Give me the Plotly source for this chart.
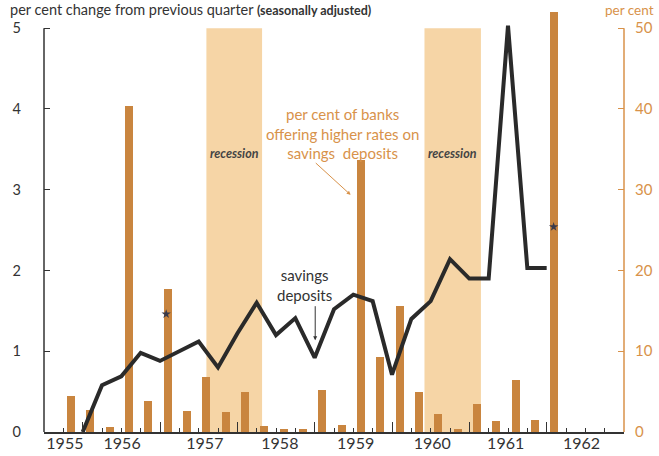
import plotly.graph_objects as go

# ---- data ----
line_quarters = [1956.00, 1956.25, 1956.50, 1956.75, 1957.00, 1957.25, 1957.50, 1957.75,
                 1958.00, 1958.25, 1958.50, 1958.75, 1959.00, 1959.25, 1959.50, 1959.75,
                 1960.00, 1960.25, 1960.50, 1960.75, 1961.00, 1961.25, 1961.50, 1961.75,
                 1962.00]
savings_change = [0.00, 0.58, 0.69, 0.98, 0.88, 1.00, 1.12, 0.80,
                  1.22, 1.60, 1.20, 1.41, 0.92, 1.52, 1.70, 1.62,
                  0.71, 1.40, 1.62, 2.14, 1.90, 1.90, 5.03, 2.03,
                  2.03]

bar_dates = [1955.85, 1956.10, 1956.35, 1956.60, 1956.85, 1957.10, 1957.35, 1957.60,
             1957.85, 1958.10, 1958.35, 1958.60, 1958.85, 1959.10, 1959.35, 1959.60,
             1959.85, 1960.10, 1960.35, 1960.60, 1960.85, 1961.10, 1961.35, 1961.60,
             1961.85, 1962.10]
banks_higher_pct = [4.5, 2.7, 0.6, 40.4, 3.8, 17.7, 2.6, 6.8,
                    2.5, 4.9, 0.7, 0.4, 0.4, 5.2, 0.9, 33.7,
                    9.3, 15.6, 5.0, 2.2, 0.4, 3.5, 1.4, 6.4,
                    1.5, 52.0]

star_x = [1957.08, 1962.09]
star_y = [1.46, 2.54]

recession_start = [1957.60, 1960.42]
recession_end = [1958.32, 1961.15]

year_label_pos = [1955.77, 1956.51, 1957.58, 1958.55, 1959.53, 1960.52, 1961.47, 1962.45]
year_labels = ["1955", "1956", "1957", "1958", "1959", "1960", "1961", "1962"]
year_ticks = [1956, 1957, 1958, 1959, 1960, 1961, 1962]

left_ticks = [0, 1, 2, 3, 4, 5]
right_ticks = [0, 10, 20, 30, 40, 50]

# ---- styles ----
DARK = "#333333"
ORANGE = "#D8924A"
BAR = "#C9853F"
SHADE = "#F6D5A6"
FONT = "Lato"

fig = go.Figure()

# bars on the primary (right, per cent) axis; line on the overlaid left axis so it draws on top
fig.add_trace(go.Bar(x=bar_dates, y=banks_higher_pct, yaxis="y", width=0.105,
                     marker=dict(color=BAR, line=dict(width=0)), showlegend=False))
fig.add_trace(go.Scatter(x=line_quarters, y=savings_change, yaxis="y2", mode="lines",
                         line=dict(color="#2A2A2A", width=4), showlegend=False,
                         cliponaxis=False))
fig.add_trace(go.Scatter(x=star_x, y=star_y, yaxis="y2", mode="markers",
                         marker=dict(symbol="star", size=7, color="#3A3A4A"),
                         showlegend=False))
fig.add_trace(go.Scatter(x=[None], y=[None], xaxis="x2", yaxis="y", showlegend=False))

for s, e in zip(recession_start, recession_end):
    fig.add_shape(type="rect", xref="x", yref="y", x0=s, x1=e, y0=0, y1=50,
                  fillcolor=SHADE, line=dict(width=0), layer="below")
    fig.add_annotation(x=(s + e) / 2, y=3.45, xref="x", yref="y2", text="<b><i>recession</i></b>",
                       showarrow=False, font=dict(family=FONT, size=12.5, color="#444444"))

# axis lines (only spanning 0..5 / 0..50)
fig.add_shape(type="line", xref="paper", yref="y", x0=0, x1=0, y0=0, y1=50,
              line=dict(color=DARK, width=1.5))
fig.add_shape(type="line", xref="paper", yref="y", x0=1, x1=1, y0=0, y1=50,
              line=dict(color=ORANGE, width=1.5))

# annotations
fig.add_annotation(x=1959.366, y=3.70, xref="x", yref="y2",
                   text="per cent of banks<br>offering higher rates on<br>savings  deposits",
                   showarrow=False, font=dict(family=FONT, size=15, color=ORANGE))
fig.add_annotation(x=1959.465, y=2.936, ax=1958.995, ay=3.347, xref="x", yref="y2",
                   axref="x", ayref="y2", text="", showarrow=True, arrowhead=2,
                   arrowsize=0.8, arrowwidth=1, arrowcolor=ORANGE)
fig.add_annotation(x=1958.874, y=1.823, xref="x", yref="y2",
                   text="savings<br>deposits", showarrow=False,
                   font=dict(family=FONT, size=15, color=DARK))
fig.add_annotation(x=1959.007, y=1.135, ax=1959.007, ay=1.576, xref="x", yref="y2",
                   axref="x", ayref="y2", text="", showarrow=True, arrowhead=2,
                   arrowsize=0.8, arrowwidth=1, arrowcolor=DARK)

fig.add_annotation(x=-0.062, y=1.005, xref="paper", yref="paper", xanchor="left", yanchor="middle",
                   text="per cent change from previous quarter <span style='font-size:12.5px'><b>(seasonally adjusted)</b></span>",
                   showarrow=False, font=dict(family=FONT, size=14.5, color=DARK))
fig.add_annotation(x=1.0103, y=1.005, xref="paper", yref="paper", xanchor="center", yanchor="middle",
                   text="per cent", showarrow=False, font=dict(family=FONT, size=13.5, color=ORANGE))

fig.update_layout(
    width=659, height=456,
    margin=dict(l=44, r=35, t=12, b=24),
    paper_bgcolor="white", plot_bgcolor="white",
    font=dict(family=FONT, color=DARK),
    bargap=0,
    xaxis=dict(range=[1955.5, 1963.0], tickmode="array", tickvals=year_ticks,
               showticklabels=False, ticks="inside", ticklen=10, tickwidth=1.2, tickcolor=DARK,
               showline=True, linecolor=DARK, linewidth=1.5, showgrid=False, zeroline=False,
               automargin=False,
               minor=dict(tickmode="linear", tick0=1955.75, dtick=0.25, ticks="inside",
                          ticklen=4, tickcolor=DARK, tickwidth=1, showgrid=False)),
    xaxis2=dict(overlaying="x", side="bottom", anchor="y", range=[1955.5, 1963.0],
                tickmode="array", tickvals=year_label_pos, ticktext=year_labels,
                ticks="", showline=False, showgrid=False, zeroline=False, automargin=False,
                tickfont=dict(family=FONT, size=16, color=DARK)),
    yaxis=dict(side="right", range=[0, 52], tickmode="array", tickvals=right_ticks,
               ticks="inside", ticklen=6, tickcolor=ORANGE, tickwidth=1.2, showline=False,
               showgrid=False, zeroline=False, automargin=False,
               tickfont=dict(family=FONT, size=15, color=ORANGE), ticklabelstandoff=10),
    yaxis2=dict(overlaying="y", side="left", anchor="x", range=[0, 5.2], tickmode="array",
                tickvals=left_ticks, ticks="inside", ticklen=6, tickcolor=DARK, tickwidth=1.2,
                showline=False, showgrid=False, zeroline=False, automargin=False,
                tickfont=dict(family=FONT, size=14.5, color=DARK), ticklabelstandoff=22),
)

fig.write_html("out.html", config={"displayModeBar": False},
               post_script="document.body.style.margin='0';")
